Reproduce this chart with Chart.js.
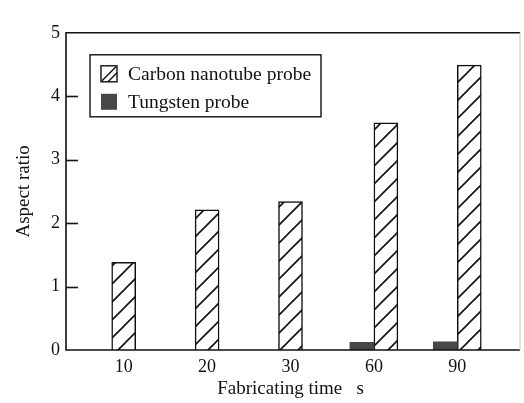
<!DOCTYPE html>
<html>
<head>
<meta charset="utf-8">
<script src="https://cdn.jsdelivr.net/npm/chart.js@4/dist/chart.umd.min.js"></script>
<style>
  html, body { margin: 0; padding: 0; background: #fff; }
  #wrap { width: 524px; height: 403px; }
</style>
</head>
<body>
<div id="wrap"><canvas id="chart" width="524" height="403"></canvas></div>
<script>
// Fabricating time (s) and aspect ratio of the probes
const times = ['10', '20', '30', '60', '90'];
const carbonRatio = [1.38, 2.21, 2.34, 3.58, 4.49];
const tungstenRatio = [null, null, null, 0.12, 0.13];
const yTicks = [0, 1, 2, 3, 4, 5];

const seriesNames = ['Carbon nanotube probe', 'Tungsten probe'];
const FONT = '"Liberation Serif", "Times New Roman", serif';

// "/" hatch for the carbon nanotube bars
function makeHatch() {
    const size = 18;
    const c = document.createElement('canvas');
    c.width = size;
    c.height = size;
    const g = c.getContext('2d');
    g.fillStyle = '#fff';
    g.fillRect(0, 0, size, size);
    g.strokeStyle = '#111';
    g.lineWidth = 1.6;
    g.beginPath();
    g.moveTo(-2, size + 2); g.lineTo(size + 2, -2);
    g.moveTo(-2, 2); g.lineTo(2, -2);
    g.moveTo(size - 2, size + 2); g.lineTo(size + 2, size - 2);
    g.stroke();
    return g.createPattern(c, 'repeat');
}

const ctx = document.getElementById('chart').getContext('2d');
const hatch = makeHatch();

// frame, inward y ticks and the boxed legend
const framePlugin = {
    id: 'frame',
    afterDraw(chart) {
        const { ctx, chartArea: a, scales: { y } } = chart;
        const left = a.left - 16;
        const right = a.right + 21;
        ctx.save();
        ctx.strokeStyle = '#111';
        ctx.lineWidth = 1.6;
        ctx.beginPath();
        ctx.moveTo(right, a.top);
        ctx.lineTo(left, a.top);
        ctx.lineTo(left, a.bottom);
        ctx.lineTo(right, a.bottom);
        ctx.stroke();

        ctx.strokeStyle = '#c4c4c4';
        ctx.lineWidth = 1;
        ctx.beginPath();
        ctx.moveTo(right, a.top);
        ctx.lineTo(right, a.bottom);
        ctx.stroke();

        ctx.strokeStyle = '#111';
        ctx.lineWidth = 1.6;
        yTicks.forEach(v => {
            if (v <= 0 || v >= 5) return;
            const py = Math.round(y.getPixelForValue(v)) + 0.5;
            ctx.beginPath();
            ctx.moveTo(left, py);
            ctx.lineTo(left + 12, py);
            ctx.stroke();
        });

        // legend box, carbon first
        const lx = left + 24, ly = a.top + 22, lw = 231, lh = 62;
        ctx.lineWidth = 1.4;
        ctx.strokeRect(lx, ly, lw, lh);

        const ds = chart.data.datasets;
        [1, 0].forEach((idx, i) => {
            const d = ds[idx];
            const bx = lx + 11, by = ly + 11 + i * 28, bs = 16;
            if (d.backgroundColor === hatch) {
                ctx.fillStyle = '#fff';
                ctx.fillRect(bx, by, bs, bs);
                ctx.beginPath();
                ctx.moveTo(bx + 1, by + bs - 1);
                ctx.lineTo(bx + bs - 1, by + 1);
                ctx.moveTo(bx + 7, by + bs);
                ctx.lineTo(bx + bs, by + 7);
                ctx.stroke();
                ctx.strokeRect(bx, by, bs, bs);
            } else {
                ctx.fillStyle = d.backgroundColor;
                ctx.fillRect(bx, by, bs, bs);
            }
            ctx.fillStyle = '#111';
            ctx.font = '19.5px ' + FONT;
            ctx.textBaseline = 'middle';
            ctx.textAlign = 'left';
            ctx.fillText(d.label, bx + 27, by + bs / 2 + 1);
        });
        ctx.restore();
    }
};

new Chart(ctx, {
    type: 'bar',
    data: {
        labels: times,
        datasets: [
            {
                label: seriesNames[1],
                data: tungstenRatio,
                backgroundColor: '#474747',
                borderWidth: 0
            },
            {
                label: seriesNames[0],
                data: carbonRatio,
                backgroundColor: hatch,
                borderColor: '#111',
                borderWidth: 1.5
            }
        ]
    },
    options: {
        responsive: false,
        animation: false,
        devicePixelRatio: 1,
        layout: { padding: { top: 11, right: 25, left: 0, bottom: 0 } },
        datasets: {
            bar: { barThickness: 24, skipNull: true }
        },
        plugins: {
            legend: { display: false },
            tooltip: { enabled: false }
        },
        scales: {
            x: {
                grid: { display: false, drawTicks: false },
                border: { display: false },
                ticks: { color: '#111', font: { family: FONT, size: 18 }, padding: 6 },
                title: {
                    display: true,
                    text: 'Fabricating time   s',
                    color: '#111',
                    font: { family: FONT, size: 19 },
                    padding: { top: 0, bottom: 3 }
                },
                afterFit(scale) { scale.height = 53; }
            },
            y: {
                min: 0,
                max: 5,
                afterBuildTicks(scale) { scale.ticks = yTicks.map(v => ({ value: v })); },
                grid: { display: false, drawTicks: false },
                border: { display: false },
                ticks: { color: '#111', font: { family: FONT, size: 18 }, padding: 22 },
                title: {
                    display: true,
                    text: 'Aspect ratio',
                    color: '#111',
                    font: { family: FONT, size: 19 },
                    padding: { top: 13, bottom: 0 }
                },
                afterFit(scale) { scale.width = 82; }
            }
        }
    },
    plugins: [framePlugin]
});
</script>
</body>
</html>
